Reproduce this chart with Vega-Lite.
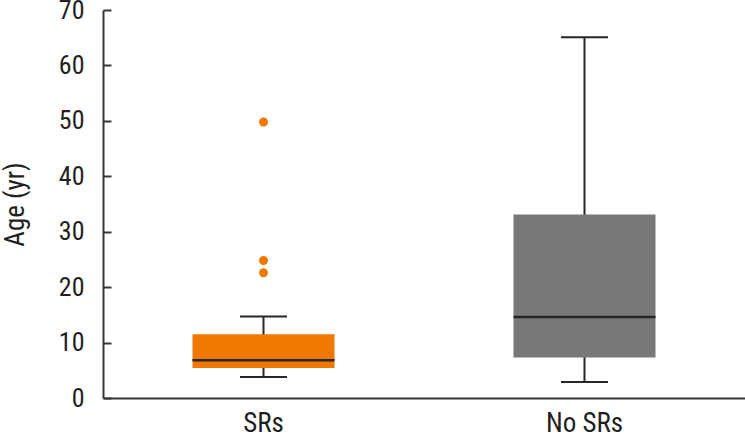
{
  "$schema": "https://vega.github.io/schema/vega-lite/v6.json",
  "width": 642,
  "height": 388,
  "autosize": {"type": "none"},
  "padding": {"left": 103, "top": 10, "right": 0, "bottom": 41},
  "background": "white",
  "config": {
    "view": {"stroke": null},
    "font": "Liberation Sans Narrow, Roboto Condensed, DejaVu Sans Condensed, Roboto, sans-serif",
    "axis": {
      "labelFont": "Liberation Sans Narrow, Roboto Condensed, DejaVu Sans Condensed, Roboto, sans-serif",
      "titleFont": "Liberation Sans Narrow, Roboto Condensed, DejaVu Sans Condensed, Roboto, sans-serif",
      "labelColor": "#231f20",
      "titleColor": "#231f20",
      "domainColor": "#3a3636",
      "tickColor": "#3a3636",
      "grid": false
    }
  },
  "datasets": {
    "boxes": [
      {"group": "SRs", "lower": 3.8, "q1": 5.4, "median": 6.8, "q3": 11.5, "upper": 14.7},
      {"group": "No SRs", "lower": 2.9, "q1": 7.3, "median": 14.6, "q3": 33.1, "upper": 65.1}
    ],
    "outliers": [
      {"group": "SRs", "age": 49.8},
      {"group": "SRs", "age": 24.8},
      {"group": "SRs", "age": 22.6}
    ]
  },
  "encoding": {
    "x": {
      "field": "group",
      "type": "nominal",
      "sort": ["SRs", "No SRs"],
      "scale": {"domain": ["SRs", "No SRs"], "paddingInner": 0.5, "paddingOuter": 0.25},
      "axis": {
        "title": null,
        "labelAngle": 0,
        "ticks": false,
        "domainWidth": 2,
        "labelFontSize": 27,
        "labelPadding": 12
      }
    }
  },
  "layer": [
    {
      "data": {"name": "boxes"},
      "mark": {"type": "rule", "color": "#2a2526", "strokeWidth": 2},
      "encoding": {
        "y": {
          "field": "lower",
          "type": "quantitative",
          "scale": {"domain": [0, 70], "nice": false},
          "axis": {
            "title": "Age (yr)",
            "values": [0, 10, 20, 30, 40, 50, 60, 70],
            "domainWidth": 2,
            "tickSize": -8,
            "tickWidth": 2,
            "labelFontSize": 26,
            "labelPadding": 27,
            "titleFontSize": 27,
            "titleFontWeight": "normal",
            "titleAngle": -90,
            "titleX": -88,
            "titleY": 194,
            "titleAlign": "center",
            "titleBaseline": "middle"
          }
        },
        "y2": {"field": "upper"}
      }
    },
    {
      "data": {"name": "boxes"},
      "mark": {"type": "tick", "color": "#2a2526", "size": 47, "thickness": 2, "opacity": 1},
      "encoding": {"y": {"field": "lower", "type": "quantitative"}}
    },
    {
      "data": {"name": "boxes"},
      "mark": {"type": "tick", "color": "#2a2526", "size": 47, "thickness": 2, "opacity": 1},
      "encoding": {"y": {"field": "upper", "type": "quantitative"}}
    },
    {
      "data": {"name": "boxes"},
      "mark": {"type": "bar", "size": 142},
      "encoding": {
        "y": {"field": "q1", "type": "quantitative"},
        "y2": {"field": "q3"},
        "color": {
          "field": "group",
          "type": "nominal",
          "scale": {"domain": ["SRs", "No SRs"], "range": ["#ef7800", "#787878"]},
          "legend": null
        }
      }
    },
    {
      "data": {"name": "boxes"},
      "mark": {"type": "tick", "color": "#2a2526", "size": 142, "thickness": 2.5, "opacity": 1},
      "encoding": {"y": {"field": "median", "type": "quantitative"}}
    },
    {
      "data": {"name": "outliers"},
      "mark": {"type": "point", "filled": true, "size": 80, "opacity": 1, "color": "#ef7800"},
      "encoding": {"y": {"field": "age", "type": "quantitative"}}
    }
  ]
}
